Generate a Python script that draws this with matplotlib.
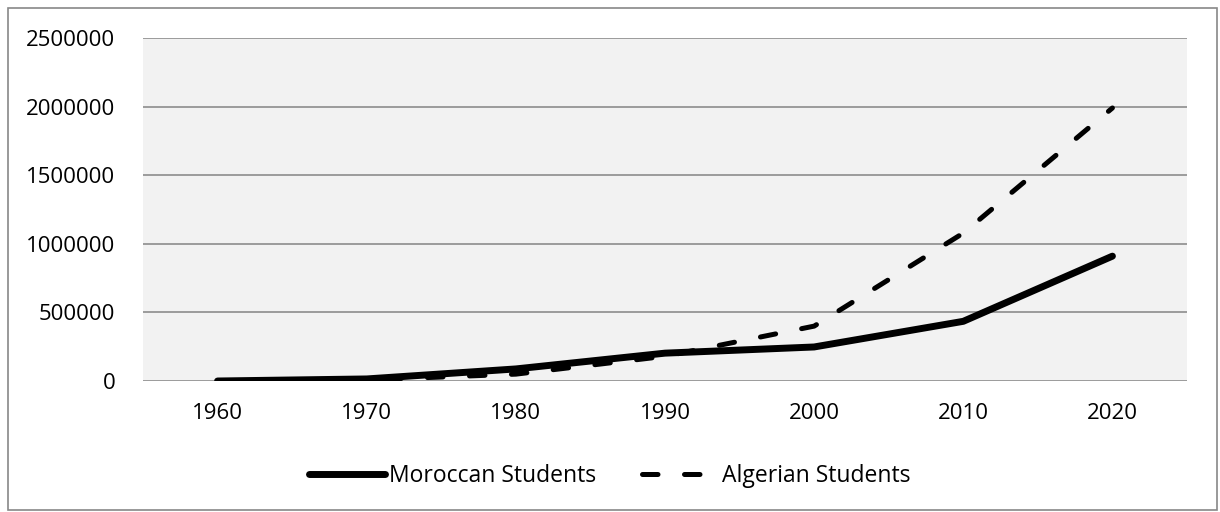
import numpy as np
import matplotlib.pyplot as plt
from matplotlib.patches import Rectangle

plt.rcParams['font.family'] = ['Open Sans', 'DejaVu Sans']

years = ['1960', '1970', '1980', '1990', '2000', '2010', '2020']
moroccan = [0, 15000, 88000, 203000, 248000, 435000, 910000]
algerian = [0, 8000, 50000, 180000, 400000, 1078000, 1990000]
y_ticks = [0, 500000, 1000000, 1500000, 2000000, 2500000]

fig = plt.figure(figsize=(12.2, 5.12), dpi=100)
ax = fig.add_axes([143 / 1220, 1 - 381 / 512, 1044 / 1220, 343 / 512])
ax.set_facecolor('#F2F2F2')

x = np.arange(len(years))
ax.plot(x, moroccan, color='black', lw=5, solid_capstyle='round',
        solid_joinstyle='round', label='Moroccan Students', zorder=3)
ax.plot(x, algerian, color='black', lw=3.6, dashes=(3.1, 5.3),
        dash_capstyle='round', dash_joinstyle='round',
        label='Algerian Students', zorder=3)

ax.set_xlim(-0.5, len(years) - 0.5)
ax.set_ylim(0, 2500000)
ax.set_xticks(x)
ax.set_xticklabels(years)
ax.set_yticks(y_ticks)
ax.set_yticklabels([str(v) for v in y_ticks])
ax.tick_params(axis='both', length=0, labelsize=16)
ax.tick_params(axis='x', pad=16)
ax.tick_params(axis='y', pad=20)
ax.grid(axis='y', color='#8C8C8C', lw=1.2)
ax.set_axisbelow(True)
for s in ax.spines.values():
    s.set_visible(False)

leg = fig.legend(loc='center', bbox_to_anchor=(0.5, 1 - 476 / 512), ncol=2,
                 frameon=False, fontsize=16.5, handlelength=3.3,
                 handletextpad=0.2, columnspacing=2.0)

fig.patches.append(Rectangle((8 / 1220, 2 / 512), 1209 / 1220, 502 / 512,
                             transform=fig.transFigure, fill=False,
                             edgecolor='#888888', lw=1.2))

fig.savefig('out.png', dpi=100)
